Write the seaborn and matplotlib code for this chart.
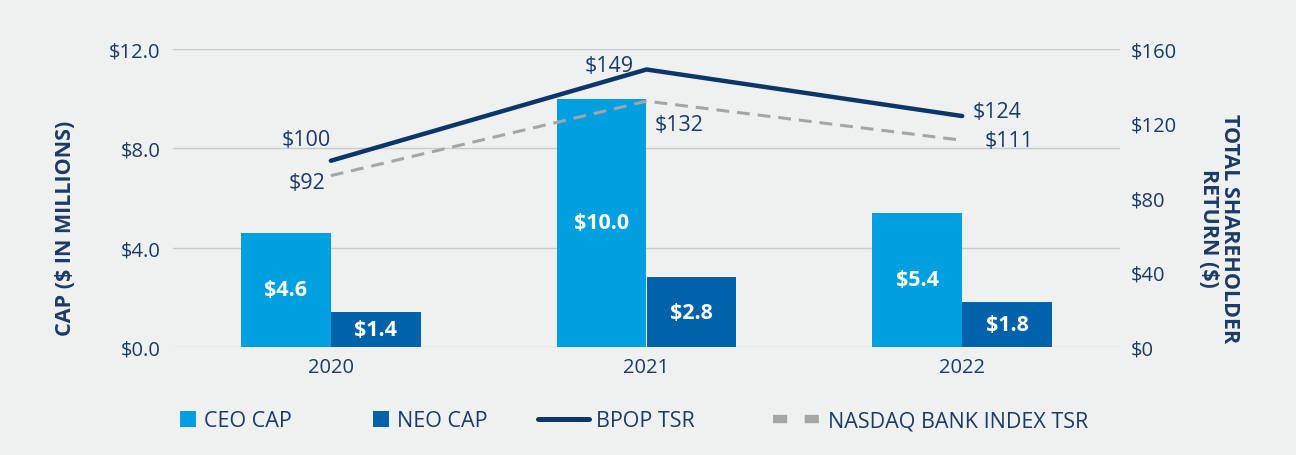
import matplotlib
matplotlib.use("Agg")
import matplotlib.pyplot as plt
import seaborn as sns
import pandas as pd
from matplotlib.patches import Patch
from matplotlib.lines import Line2D
from matplotlib.ticker import FixedLocator

# ---- data ----
years = ["2020", "2021", "2022"]
ceo_cap = [4.6, 10.0, 5.4]
neo_cap = [1.4, 2.8, 1.8]
bpop_tsr = [100, 149, 124]
nasdaq_tsr = [92, 132, 111]
left_ticks = [0.0, 4.0, 8.0, 12.0]
right_ticks = [0, 40, 80, 120, 160]
series_names = ["CEO CAP", "NEO CAP", "BPOP TSR", "NASDAQ BANK INDEX TSR"]

# ---- style ----
BG = "#eff1f1"
NAVY = "#1c3a66"
C_CEO = "#009fe0"
C_NEO = "#0062ab"
C_BPOP = "#0b3669"
C_NAS = "#a3a5a7"
GRID = "#c9cbcc"

sns.set_theme(style="white")
plt.rcParams["font.family"] = ["Open Sans", "DejaVu Sans"]

fig = plt.figure(figsize=(12.96, 4.56), dpi=100, facecolor=BG)
ax = fig.add_axes([173/1296, 1-348/456, 947/1296, 298/456])
ax.set_facecolor(BG)

df = pd.DataFrame({
    "year": years * 2,
    "series": [series_names[0]] * 3 + [series_names[1]] * 3,
    "value": ceo_cap + neo_cap,
})
sns.barplot(data=df, x="year", y="value", hue="series",
            hue_order=series_names[:2],
            palette={series_names[0]: C_CEO, series_names[1]: C_NEO},
            width=0.57, gap=0, legend=False, ax=ax, saturation=1,
            edgecolor="none", errorbar=None)

for cont, vals in zip(ax.containers, [ceo_cap, neo_cap]):
    ax.bar_label(cont, labels=[f"${v:.1f}" for v in vals], label_type="center",
                 color="white", fontsize=15.5, fontweight="bold")

ax.set_xlim(-0.5, 2.5)
ax.set_ylim(0, 12)
ax.set_yticks(left_ticks)
ax.set_yticklabels([f"${t:.1f}" for t in left_ticks])
ax.grid(axis="y", color=GRID, linewidth=1)
ax.grid(axis="x", visible=False)
ax.set_axisbelow(True)
for s in ax.spines.values():
    s.set_visible(False)
ax.tick_params(axis="y", length=0, pad=9, labelsize=14.5, labelcolor=NAVY)
ax.tick_params(axis="x", which="major", length=0, pad=7, labelsize=14.5, labelcolor=NAVY)
ax.xaxis.set_minor_locator(FixedLocator([-0.5, 0.5, 1.5, 2.5]))
ax.tick_params(axis="x", which="minor", length=5, width=1, color=GRID, direction="out")
ax.set_xlabel("")
ax.set_ylabel("")

ax.text(-0.114, 0.40, "CAP ($ IN MILLIONS)", transform=ax.transAxes, rotation=90,
        ha="center", va="center", fontsize=15.5, fontweight="bold", color=NAVY)

# ---- right axis ----
ax2 = ax.twinx()
sns.lineplot(x=[0, 1, 2], y=bpop_tsr, ax=ax2, color=C_BPOP, linewidth=3.2,
             solid_capstyle="round")
sns.lineplot(x=[0, 1, 2], y=nasdaq_tsr, ax=ax2, color=C_NAS, linewidth=2.2,
             dashes=False)
ax2.lines[-1].set_dashes([4.2, 2.6])
ax2.set_ylim(0, 160)
ax2.set_yticks(right_ticks)
ax2.set_yticklabels([f"${t}" for t in right_ticks])
ax2.tick_params(axis="y", length=0, pad=8, labelsize=14.5, labelcolor=NAVY)
ax2.grid(False)
for s in ax2.spines.values():
    s.set_visible(False)
ax2.set_ylabel("")
ax2.set_xlim(-0.5, 2.5)

ax.text(1.1045, 0.40, "TOTAL SHAREHOLDER\nRETURN ($)", transform=ax.transAxes,
        rotation=270, ha="center", va="center", multialignment="center",
        fontsize=15.5, fontweight="bold", color=NAVY, linespacing=0.95)

# line value labels
lab_kw = dict(textcoords="offset pixels", fontsize=15.5, color=NAVY, va="center")
offs_bpop = [((0, 21), "right"), ((-13, 4), "right"), ((10, 5), "left")]
offs_nas = [((-5, -7), "right"), ((8, -23), "left"), ((22, 0), "left")]
for i, v in enumerate(bpop_tsr):
    (dx, dy), ha = offs_bpop[i]
    ax2.annotate(f"${v}", (i, v), xytext=(dx, dy), ha=ha, **lab_kw)
for i, v in enumerate(nasdaq_tsr):
    (dx, dy), ha = offs_nas[i]
    ax2.annotate(f"${v}", (i, v), xytext=(dx, dy), ha=ha, **lab_kw)

# ---- legend (one entry per box for exact placement) ----
fs = 15.5
handles = [
    Patch(facecolor=C_CEO, edgecolor="none"),
    Patch(facecolor=C_NEO, edgecolor="none"),
    Line2D([], [], color=C_BPOP, linewidth=3.6, solid_capstyle="round"),
    Line2D([], [], color=C_NAS, linewidth=6, dashes=[1.7, 2.1]),
]
xpos = [180, 373, 538, 773]
hlen = [0.74, 0.74, 2.35, 2.2]
for h, lab, x, hl in zip(handles, series_names, xpos, hlen):
    fig.legend(handles=[h], labels=[lab], loc="center left",
               bbox_to_anchor=(x/1296, 1-422/456), frameon=False,
               fontsize=fs, handlelength=hl, handleheight=0.78,
               handletextpad=0.36, borderpad=0, borderaxespad=0,
               labelcolor=NAVY)

fig.savefig("out.png", dpi=100, facecolor=BG)
